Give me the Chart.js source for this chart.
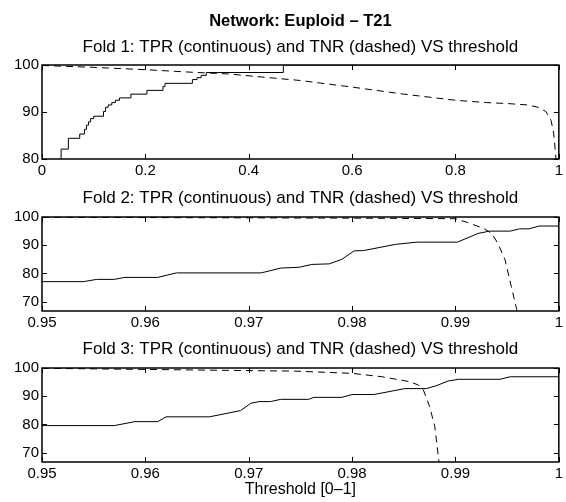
<!DOCTYPE html>
<html><head><meta charset="utf-8">
<script src="https://cdn.jsdelivr.net/npm/chart.js@4"></script>
<style>
html,body{margin:0;padding:0;background:#fff;width:566px;height:502px;overflow:hidden}
canvas{position:absolute;left:0}
</style></head>
<body>
<canvas id="c1" width="566" height="185" style="top:0px"></canvas>
<canvas id="c2" width="566" height="152" style="top:185px"></canvas>
<canvas id="c3" width="566" height="166" style="top:336px"></canvas>
<script>
// ---------- text ----------
const mainTitle = 'Network: Euploid – T21';
const foldTitles = [
  'Fold 1: TPR (continuous) and TNR (dashed) VS threshold',
  'Fold 2: TPR (continuous) and TNR (dashed) VS threshold',
  'Fold 3: TPR (continuous) and TNR (dashed) VS threshold'
];
const xAxisTitle = 'Threshold [0–1]';

// ---------- ticks ----------
const xTicks1 = [0, 0.2, 0.4, 0.6, 0.8, 1];
const xLabels1 = ['0', '0.2', '0.4', '0.6', '0.8', '1'];
const xTicks23 = [0.95, 0.96, 0.97, 0.98, 0.99, 1];
const xLabels23 = ['0.95', '0.96', '0.97', '0.98', '0.99', '1'];
const yTicks1 = [80, 90, 100];
const yTicks23 = [70, 80, 90, 100];
const xRange1 = [0, 1];
const xRange23 = [0.95, 1];
const yRange1 = [80, 100];
const yRange23 = [66.7, 100];

// ---------- fold 1 ----------
const f1TprX = [0.036, 0.037, 0.051, 0.073, 0.082, 0.086, 0.090, 0.094, 0.100, 0.119, 0.123, 0.128, 0.135, 0.142, 0.150, 0.172, 0.203, 0.234, 0.238, 0.291, 0.300, 0.308, 0.318, 0.467, 1.0];
const f1TprY = [78, 82.1, 84.4, 85.3, 86.3, 87.2, 87.9, 88.6, 89.1, 90.1, 91.0, 91.5, 92.0, 92.5, 93.0, 93.8, 94.6, 95.4, 96.1, 96.9, 97.3, 97.8, 98.4, 100, 100];
const f1TnrX = [0, 0.1, 0.2, 0.3, 0.36, 0.44, 0.5, 0.6, 0.7, 0.8, 0.86, 0.9, 0.94, 0.96, 0.975, 0.985, 0.99, 0.993, 0.996];
const f1TnrY = [99.9, 99.5, 99.0, 98.4, 98.1, 97.3, 96.7, 95.3, 93.8, 92.5, 92.0, 91.8, 91.5, 91.0, 90.1, 88.2, 85.5, 82.0, 78.0];

// ---------- fold 2 ----------
const f2TprX = [0.95, 0.954, 0.9553, 0.957, 0.958, 0.9612, 0.963, 0.9712, 0.9731, 0.9749, 0.9761, 0.9778, 0.979, 0.9802, 0.9811, 0.9842, 0.9863, 0.9902, 0.9922, 0.9933, 0.9953, 0.9962, 0.9971, 0.9981, 1.0];
const f2TprY = [77.1, 77.1, 77.9, 77.9, 78.6, 78.6, 80.2, 80.2, 81.9, 82.2, 83.2, 83.4, 85.0, 88.0, 88.1, 90.3, 91.1, 91.1, 94.2, 95.0, 95.0, 95.8, 95.8, 96.8, 96.8];
const f2TnrX = [0.95, 0.97, 0.98, 0.99, 0.9912, 0.9927, 0.9935, 0.9941, 0.9948, 0.9954, 0.9959, 0.9962];
const f2TnrY = [99.9, 99.7, 99.6, 99.4, 98.0, 96.0, 94.2, 90.7, 84.8, 75.4, 67.7, 63];

// ---------- fold 3 ----------
const f3TprX = [0.95, 0.957, 0.959, 0.9612, 0.962, 0.9662, 0.9692, 0.9702, 0.971, 0.9721, 0.9731, 0.9758, 0.9763, 0.979, 0.98, 0.9821, 0.9851, 0.9872, 0.9882, 0.9893, 0.9903, 0.9943, 0.9953, 1.0];
const f3TprY = [79.6, 79.6, 81.0, 81.0, 82.7, 82.7, 84.9, 87.5, 88.1, 88.1, 88.9, 88.9, 89.6, 89.6, 90.6, 90.6, 92.7, 92.7, 93.8, 95.4, 96.0, 96.0, 96.9, 96.9];
const f3TnrX = [0.95, 0.9745, 0.98, 0.9829, 0.9855, 0.9864, 0.9869, 0.9875, 0.988, 0.9883, 0.9885];
const f3TnrY = [99.9, 98.9, 98.1, 96.9, 95.2, 94.0, 92.2, 86.3, 79.3, 69.9, 64];

const FONT = "'Liberation Sans', Arial, Helvetica, sans-serif";
Chart.defaults.font.family = FONT;
Chart.defaults.color = '#000';

const pts = (xs, ys) => xs.map((x, i) => ({x, y: ys[i]}));

const framePlugin = {
  id: 'frame',
  afterDatasetsDraw(chart) {
    const {ctx, chartArea: a, scales: {x, y}} = chart;
    ctx.save();
    ctx.strokeStyle = '#000';
    ctx.lineWidth = 1;
    ctx.beginPath();
    x.ticks.forEach(t => {
      const px = Math.round(x.getPixelForValue(t.value)) + 0.5;
      ctx.moveTo(px, a.bottom); ctx.lineTo(px, a.bottom - 5);
      ctx.moveTo(px, a.top); ctx.lineTo(px, a.top + 5);
    });
    y.ticks.forEach(t => {
      const py = Math.round(y.getPixelForValue(t.value)) + 0.5;
      ctx.moveTo(a.left, py); ctx.lineTo(a.left + 5, py);
      ctx.moveTo(a.right, py); ctx.lineTo(a.right - 5, py);
    });
    ctx.stroke();
    ctx.lineWidth = 1.5;
    ctx.strokeRect(a.left, a.top, a.right - a.left, a.bottom - a.top);
    ctx.restore();
  }
};

function makeChart(id, o) {
  return new Chart(document.getElementById(id), {
    type: 'line',
    data: {
      datasets: [
        {data: pts(o.tprX, o.tprY), borderColor: '#000', borderWidth: 1, pointRadius: 0, stepped: o.stepped ? 'before' : false, tension: 0},
        {data: pts(o.tnrX, o.tnrY), borderColor: '#000', borderWidth: 1, pointRadius: 0, borderDash: [7, 5], tension: 0}
      ]
    },
    options: {
      responsive: false,
      animation: false,
      devicePixelRatio: 1,
      layout: {padding: {left: 0, right: 5, top: 0, bottom: 0}},
      plugins: {
        legend: {display: false},
        tooltip: {enabled: false},
        title: o.title,
        subtitle: o.subtitle || {display: false}
      },
      scales: {
        x: {
          type: 'linear', min: o.xRange[0], max: o.xRange[1],
          grid: {display: false, drawTicks: false, tickLength: 0},
          border: {display: false},
          afterBuildTicks: s => { s.ticks = o.xTicks.map(v => ({value: v})); },
          afterFit: s => { s.height = o.xHeight; },
          ticks: {autoSkip: false, maxRotation: 0, padding: 3, font: {size: 15},
                  callback: (v, i) => o.xLabels[i]},
          title: o.xTitle || {display: false}
        },
        y: {
          type: 'linear', min: o.yRange[0], max: o.yRange[1],
          grid: {display: false, drawTicks: false, tickLength: 0},
          border: {display: false},
          afterBuildTicks: s => { s.ticks = o.yTicks.map(v => ({value: v})); },
          afterFit: s => { s.width = 42; },
          ticks: {padding: 3, font: {size: 15}, callback: v => String(v)}
        }
      }
    },
    plugins: [framePlugin]
  });
}

makeChart('c1', {
  tprX: f1TprX, tprY: f1TprY, tnrX: f1TnrX, tnrY: f1TnrY, stepped: true,
  xRange: xRange1, yRange: yRange1, xTicks: xTicks1, xLabels: xLabels1, yTicks: yTicks1,
  xHeight: 26,
  title: {display: true, fullSize: false, text: mainTitle, color: '#000', font: {size: 16.5, weight: 'bold'}, padding: {top: 12, bottom: 5}},
  subtitle: {display: true, fullSize: false, text: foldTitles[0], color: '#000', font: {size: 17, weight: 'normal'}, padding: {top: 0, bottom: 7.8}}
});
makeChart('c2', {
  tprX: f2TprX, tprY: f2TprY, tnrX: f2TnrX, tnrY: f2TnrY,
  xRange: xRange23, yRange: yRange23, xTicks: xTicks23, xLabels: xLabels23, yTicks: yTicks23,
  xHeight: 26,
  title: {display: true, fullSize: false, text: foldTitles[1], color: '#000', font: {size: 17, weight: 'normal'}, padding: {top: 2.8, bottom: 8.8}}
});
makeChart('c3', {
  tprX: f3TprX, tprY: f3TprY, tnrX: f3TnrX, tnrY: f3TnrY,
  xRange: xRange23, yRange: yRange23, xTicks: xTicks23, xLabels: xLabels23, yTicks: yTicks23,
  xHeight: 40,
  title: {display: true, fullSize: false, text: foldTitles[2], color: '#000', font: {size: 17, weight: 'normal'}, padding: {top: 2.8, bottom: 8.8}},
  xTitle: {display: true, text: xAxisTitle, color: '#000', font: {size: 16}, padding: {top: 0, bottom: 2.4}}
});
</script>
</body></html>
